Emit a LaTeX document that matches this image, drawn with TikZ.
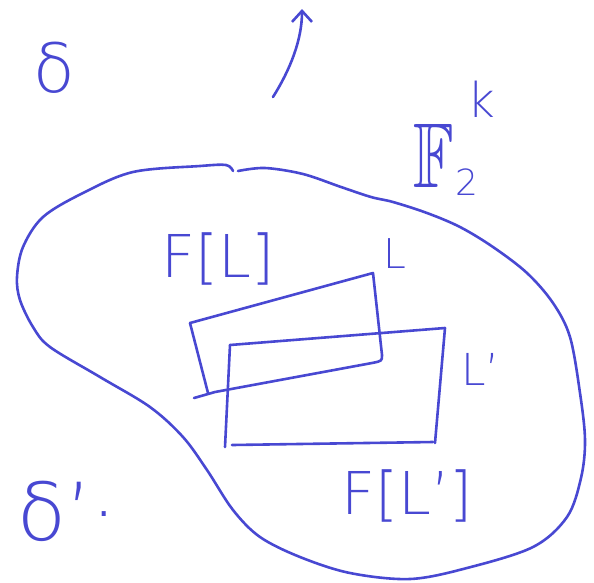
\RequirePackage{fix-cm}
\documentclass[tikz,border=0pt]{standalone}
\usepackage{amssymb}
\usepackage{graphicx}
\usepackage{fontspec}
\setmainfont{DejaVu Sans ExtraLight}
\usetikzlibrary{arrows.meta}
\definecolor{ink}{RGB}{72,72,210}
\tikzset{
  pen/.style={draw=ink, line width=2.6pt, line cap=round, line join=round},
  lbl/.style={text=ink, inner sep=0pt, anchor=base west},
}
\begin{document}
\begin{tikzpicture}[x=1pt,y=-1pt]
\useasboundingbox (0,0) rectangle (594,582);
% blob (the set)
\draw[pen] plot[smooth, tension=0.55] coordinates {(238,171) (265,168) (303,174) (341,187) (371,197) (393,202) (427,213) (460,227) (493,247) (527,273) (553,303) (570,337) (580,393) (585,440) (581,478) (567,517) (533,547) (467,568) (410,579) (350,573) (300,557) (260,537) (233,510) (207,470) (183,437) (150,407) (100,377) (50,347) (33,327) (20,300) (17,277) (23,247) (43,217) (83,193) (133,172) (200,166) (226,165) (233,171)};
% arrow
\coordinate (atail) at (273,97);
\coordinate (ahead) at (302,9);
\draw[pen, -{Straight Barb[length=11pt,width=20pt]}] (atail) .. controls (290,70) and (302,40) .. (ahead);
% rectangle L
\draw[pen] (190,323) -- (373,273) -- (382,355) .. controls (382,361) .. (372,363) -- (215,392) -- (194,398);
\draw[pen] (190,323) -- (208,393);
% rectangle L'
\draw[pen] (230,345) -- (445,328) -- (435,443);
\draw[pen] (230,345) -- (225,447);
\draw[pen] (232,445) -- (433,442);
% labels
\node[lbl, font=\fontsize{68}{68}\selectfont] (delta) at (33,92) {δ};
\node[lbl, font=\fontsize{80}{80}\selectfont] (deltap) at (17,540) {δ'\raisebox{0.3em}{.}};
\node[lbl, font=\fontsize{92}{92}\selectfont] (field) at (413,187) {\rlap{\scalebox{0.72}[1]{$\mathbb{F}$}}\hspace{42pt}\rlap{\raisebox{-8pt}{\fontsize{36}{36}\selectfont 2}}\hspace{12pt}\raisebox{70pt}{\fontsize{48}{48}\selectfont k}};
\node[lbl, font=\fontsize{59}{59}\selectfont] (FL) at (161,277) {F[L]};
\node[lbl, font=\fontsize{41}{41}\selectfont] (L) at (383,268) {L};
\node[lbl, font=\fontsize{44}{44}\selectfont] (Lp) at (461,385) {L'};
\node[lbl, font=\fontsize{59}{59}\selectfont] (FLp) at (341,514) {F[L']};
\end{tikzpicture}
\end{document}
